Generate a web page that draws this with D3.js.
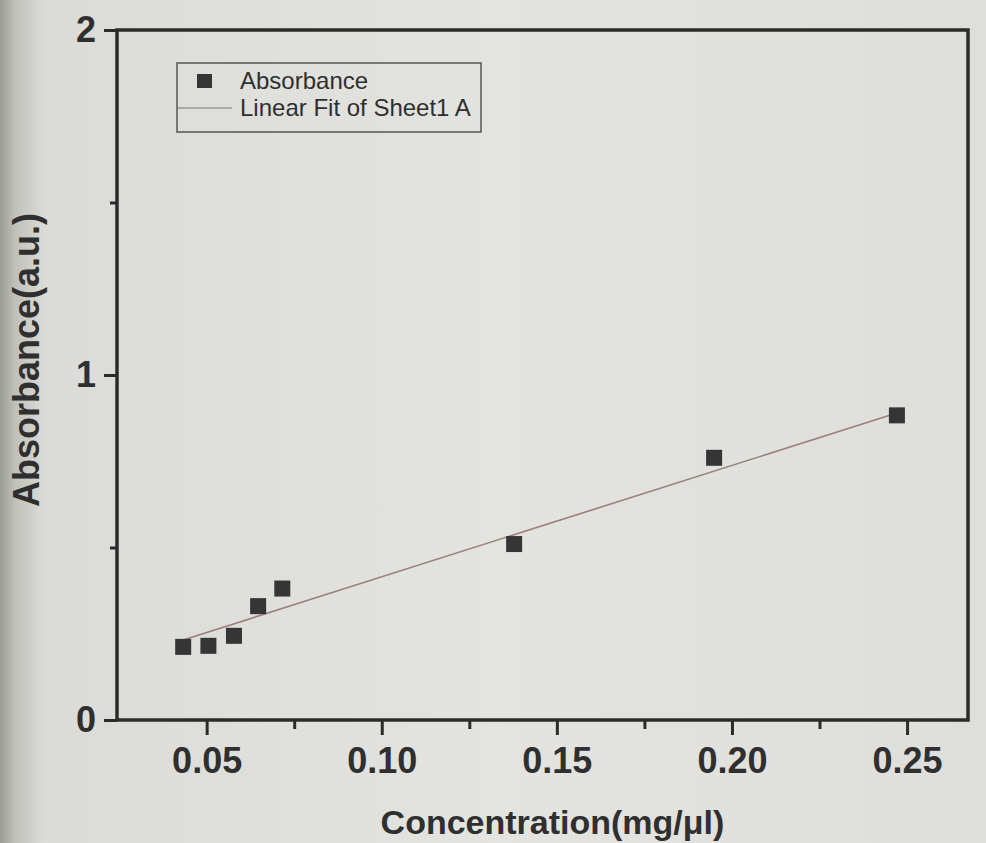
<!DOCTYPE html>
<html>
<head>
<meta charset="utf-8">
<script src="https://cdn.jsdelivr.net/npm/d3@7"></script>
<style>
  body { margin: 0; background: #e2e3de; }
  svg text { font-family: "Liberation Sans", Arial, sans-serif; fill: #2f2f2f; }
</style>
</head>
<body>
<div id="chart"></div>
<script>
// data
var concentration = [0.0433, 0.0505, 0.0578, 0.0647, 0.0716, 0.1378, 0.1949, 0.2471];
var absorbance = [0.212, 0.215, 0.244, 0.330, 0.381, 0.510, 0.760, 0.883];
var fitX = [0.0433, 0.2471];
var fitY = [0.232, 0.890];
var xTicks = [0.05, 0.10, 0.15, 0.20, 0.25];
var xMinor = [0.075, 0.125, 0.175, 0.225];
var yTicks = [0, 1, 2];
var yMinor = [0.5, 1.5];
var legendLabels = ["Absorbance", "Linear Fit of Sheet1 A"];

var width = 986, height = 843;
var margin = { left: 117, right: 968, top: 30, bottom: 720 };

var svg = d3.select("#chart").append("svg")
    .attr("width", width)
    .attr("height", height);

// paper background, darker towards the left edge
var grad = svg.append("defs").append("linearGradient")
    .attr("id", "paper")
    .attr("x1", 0).attr("x2", 1).attr("y1", 0).attr("y2", 0);
grad.append("stop").attr("offset", "0").attr("stop-color", "#9c9d97");
grad.append("stop").attr("offset", "0.015").attr("stop-color", "#bfc0ba");
grad.append("stop").attr("offset", "0.045").attr("stop-color", "#dbdcd7");
grad.append("stop").attr("offset", "0.5").attr("stop-color", "#e3e4df");
grad.append("stop").attr("offset", "1").attr("stop-color", "#dedfda");

svg.append("rect")
    .attr("width", width)
    .attr("height", height)
    .attr("fill", "url(#paper)");

var x = d3.scaleLinear().domain([0.0244, 0.2674]).range([margin.left, margin.right]);
var y = d3.scaleLinear().domain([0, 2]).range([margin.bottom, margin.top]);

// axes
var xAxis = svg.append("g")
    .attr("transform", "translate(0," + margin.bottom + ")")
    .call(d3.axisBottom(x).tickValues(xTicks).tickFormat(d3.format(".2f")).tickSize(15).tickPadding(12));
xAxis.selectAll("text").attr("font-size", 36).attr("font-weight", "bold").attr("fill", "#333");

svg.append("g")
    .attr("transform", "translate(0," + margin.bottom + ")")
    .call(d3.axisBottom(x).tickValues(xMinor).tickFormat("").tickSize(9));

var yAxis = svg.append("g")
    .attr("transform", "translate(" + margin.left + ",0)")
    .call(d3.axisLeft(y).tickValues(yTicks).tickFormat(d3.format("d")).tickSize(13).tickPadding(8));
yAxis.selectAll("text").attr("font-size", 36).attr("font-weight", "bold").attr("fill", "#333");

svg.append("g")
    .attr("transform", "translate(" + margin.left + ",0)")
    .call(d3.axisLeft(y).tickValues(yMinor).tickFormat("").tickSize(7));

svg.selectAll(".domain").remove();
svg.selectAll(".tick line").attr("stroke", "#2b2b2b").attr("stroke-width", 3);

// frame
svg.append("rect")
    .attr("x", margin.left)
    .attr("y", margin.top)
    .attr("width", margin.right - margin.left)
    .attr("height", margin.bottom - margin.top)
    .attr("fill", "none")
    .attr("stroke", "#2b2b2b")
    .attr("stroke-width", 3.5);

// fit line
svg.append("line")
    .attr("x1", x(fitX[0])).attr("y1", y(fitY[0]))
    .attr("x2", x(fitX[1])).attr("y2", y(fitY[1]))
    .attr("stroke", "#9c807d")
    .attr("stroke-width", 1.6);

// points
var pts = concentration.map(function(c, i) { return [c, absorbance[i]]; });
svg.selectAll(".pt")
    .data(pts)
    .enter()
    .append("rect")
    .attr("class", "pt")
    .attr("x", d => x(d[0]) - 8)
    .attr("y", d => y(d[1]) - 8)
    .attr("width", 16)
    .attr("height", 16)
    .attr("fill", "#353535");

// legend
var lg = svg.append("g");
lg.append("rect")
    .attr("x", 177).attr("y", 63)
    .attr("width", 304).attr("height", 69)
    .attr("fill", "none")
    .attr("stroke", "#555")
    .attr("stroke-width", 1.5);
lg.append("rect")
    .attr("x", 197).attr("y", 74)
    .attr("width", 15).attr("height", 14)
    .attr("fill", "#353535");
lg.append("line")
    .attr("x1", 177).attr("x2", 232)
    .attr("y1", 108).attr("y2", 108)
    .attr("stroke", "#777")
    .attr("stroke-width", 1.2);
lg.selectAll(".lt")
    .data(legendLabels)
    .enter()
    .append("text")
    .attr("class", "lt")
    .attr("x", 240)
    .attr("y", (d, i) => 89 + i * 27)
    .attr("font-size", 24)
    .attr("fill", "#3a3a3a")
    .text(d => d);

// axis titles
svg.append("text")
    .attr("x", (margin.left + margin.right) / 2 + 10)
    .attr("y", 834)
    .attr("text-anchor", "middle")
    .attr("font-size", 34)
    .attr("font-weight", "bold")
    .text("Concentration(mg/μl)");

svg.append("text")
    .attr("transform", "translate(39,360) rotate(-90)")
    .attr("text-anchor", "middle")
    .attr("font-size", 36)
    .attr("font-weight", "bold")
    .text("Absorbance(a.u.)");
</script>
</body>
</html>
